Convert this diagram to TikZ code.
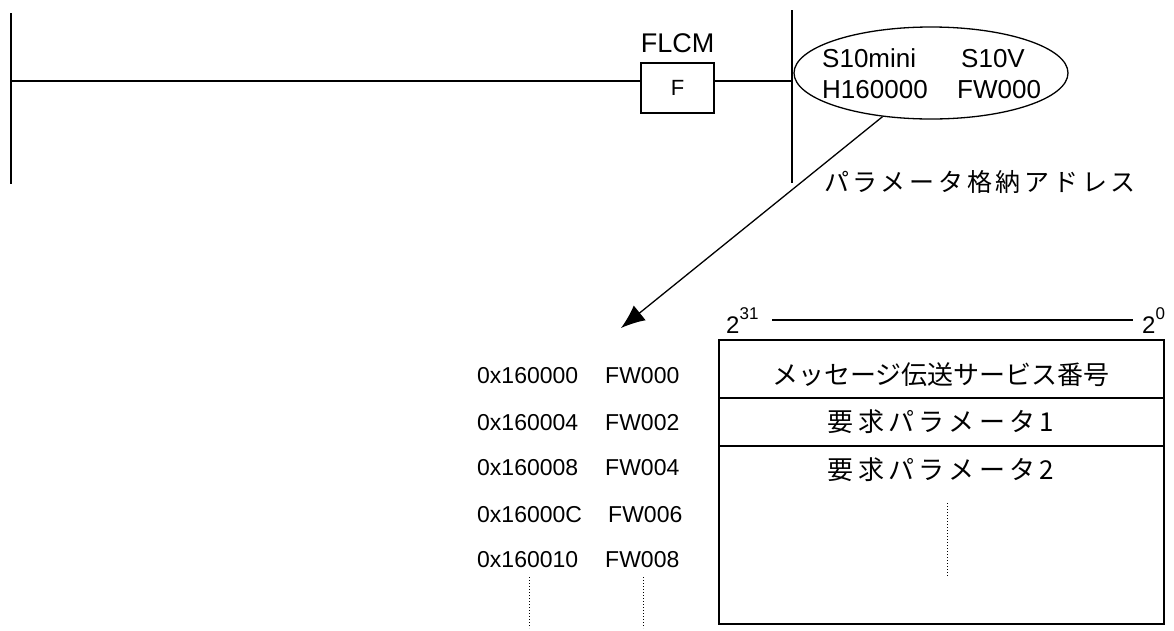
\documentclass[tikz,border=0pt]{standalone}
\usepackage{fontspec}
\setmainfont{Liberation Sans}
\newfontfamily\jpA[LetterSpace=0]{Noto Sans CJK JP}
\newfontfamily\jpB[LetterSpace=17]{Noto Sans CJK JP}
\newfontfamily\jpC[LetterSpace=15]{Noto Sans CJK JP}
\usetikzlibrary{arrows.meta,shapes.geometric}
\begin{document}
\begin{tikzpicture}[x=1pt,y=-1pt,
  rail/.style={line width=1.6pt},
  wire/.style={line width=1.3pt},
  dots/.style={dotted,line width=1pt},
  txt/.style={inner sep=0pt,anchor=base west,font=\fontsize{23}{27}\selectfont},
  big/.style={inner sep=0pt,anchor=base west,font=\fontsize{26}{30}\selectfont},
  row/.style={inner sep=0pt}]
\useasboundingbox (0,0) rectangle (1174,630);
% ladder rails
\coordinate (lrTop) at (11,13);
\coordinate (lrBot) at (11,184);
\coordinate (rrTop) at (792,10);
\coordinate (rrBot) at (792,183);
\coordinate (rungL) at (11,81);
\coordinate (rungR) at (792,81);
\draw[rail] (lrTop) -- (lrBot);
\draw[rail] (rrTop) -- (rrBot);
% function box
\node[draw,wire,minimum width=73pt,minimum height=50pt,inner sep=0pt,
      font=\fontsize{22}{26}\selectfont] (fbox) at (677.5,88) {F};
\node[inner sep=0pt,anchor=base,font=\fontsize{27}{30}\selectfont] (flcm) at (677.5,52) {FLCM};
\draw[wire] (rungL) -- (fbox.west |- rungL);
\draw[wire] (fbox.east |- rungL) -- (rungR);
% parameter ellipse
\node[draw,wire,ellipse,minimum width=274pt,minimum height=92pt,inner sep=0pt] (ell) at (931,73) {};
\node[big] (s10m) at (822,67) {S10mini};
\node[big] (s10v) at (961,67) {S10V};
\node[big] (h16) at (822,98) {H160000};
\node[big] (fw) at (957,98) {FW000};
\node[inner sep=0pt,anchor=west,font=\jpC\fontsize{25}{29}\selectfont] (plabel) at (824,182) {パラメータ格納アドレス};
% arrow
\coordinate (tip) at (621,328);
\draw[wire,-{Latex[length=24pt,width=19pt]}] (ell.222) -- (tip);
% bit range
\node[inner sep=0pt,anchor=base west,font=\fontsize{24}{28}\selectfont] (p31) at (726,333)
  {2\raisebox{14pt}{\fontsize{17}{19}\selectfont 31}};
\node[inner sep=0pt,anchor=base west,font=\fontsize{24}{28}\selectfont] (p0) at (1142,333)
  {2\raisebox{14pt}{\fontsize{17}{19}\selectfont 0}};
\coordinate (bl) at (772,320);
\coordinate (br) at (1133,320);
\draw[wire] (bl) -- (br);
% memory box
\node[draw,wire,minimum width=445pt,minimum height=284pt,inner sep=0pt] (mem) at (941.5,482) {};
\coordinate (d1) at (0,398);
\coordinate (d2) at (0,446);
\draw[wire] (mem.west |- d1) -- (mem.east |- d1);
\draw[wire] (mem.west |- d2) -- (mem.east |- d2);
\node[row,font=\jpA\fontsize{26}{30}\selectfont] (r1) at (941,375) {メッセージ伝送サービス番号};
\node[row,font=\jpB\fontsize{26}{30}\selectfont] (r2) at (941,422) {要求パラメータ1};
\node[row,font=\jpB\fontsize{26}{30}\selectfont] (r3) at (941,470) {要求パラメータ2};
\coordinate (dt1) at (947,503);
\coordinate (db1) at (947,577);
\draw[dots] (dt1) -- (db1);
% addresses
\node[txt] (a1) at (477,383) {0x160000};
\node[txt] (a2) at (477,430) {0x160004};
\node[txt] (a3) at (477,475) {0x160008};
\node[txt] (a4) at (477,522) {0x16000C};
\node[txt] (a5) at (477,567) {0x160010};
\node[txt] (f1) at (605,383) {FW000};
\node[txt] (f2) at (605,430) {FW002};
\node[txt] (f3) at (605,475) {FW004};
\node[txt] (f4) at (608,522) {FW006};
\node[txt] (f5) at (605,567) {FW008};
\coordinate (dt2) at (529,577);
\coordinate (db2) at (529,628);
\coordinate (dt3) at (643,577);
\coordinate (db3) at (643,628);
\draw[dots] (dt2) -- (db2);
\draw[dots] (dt3) -- (db3);
\end{tikzpicture}
\end{document}
